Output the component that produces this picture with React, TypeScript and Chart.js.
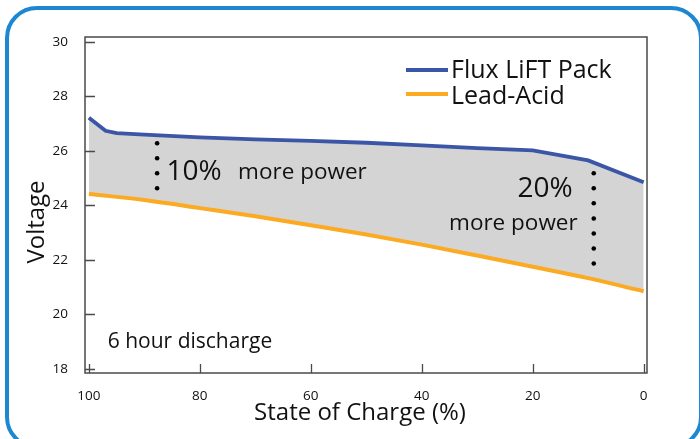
import React, { useEffect, useRef } from "react";
import { Chart, registerables } from "chart.js";

Chart.register(...registerables);

// ---- data ----
const fluxSoc = [100, 97, 95, 90, 80, 70, 60, 50, 40, 30, 20, 10, 0];
const fluxVoltage = [27.22, 26.74, 26.65, 26.6, 26.5, 26.42, 26.37, 26.3, 26.2, 26.1, 26.02, 25.65, 24.85];
const leadSoc = [100, 90, 80, 70, 60, 50, 40, 30, 20, 10, 0];
const leadVoltage = [24.42, 24.2, 23.9, 23.6, 23.27, 22.93, 22.56, 22.16, 21.75, 21.33, 20.85];
const dots10Soc = 87.7;
const dots10Voltage = [26.28, 25.73, 25.18, 24.63];
const dots20Soc = 9;
const dots20Voltage = [25.18, 24.63, 24.08, 23.52, 22.97, 22.42, 21.87];
const yTickValues = [18, 20, 22, 24, 26, 28, 30];
const xTickValues = [100, 80, 60, 40, 20, 0];
const seriesNames = ["Flux LiFT Pack", "Lead-Acid"];
const xTitle = "State of Charge (%)";
const yTitle = "Voltage";
const note10 = ["10%", "more power"];
const note20 = ["20%", "more power"];
const noteDischarge = "6 hour discharge";

const FONT = '"Open Sans", "DejaVu Sans", sans-serif';
const BLUE = "#3b56a6";
const ORANGE = "#fbaa22";
const FILL = "#d4d4d4";
const FRAME = "#4a4a4a";
const TEXT = "#111111";

const decorPlugin = {
  id: "decor",
  afterDatasetsDraw(chart: any) {
    const { ctx, chartArea: a, scales } = chart;
    const xs = scales.x;
    const ys = scales.y;
    ctx.save();
    // frame
    ctx.strokeStyle = FRAME;
    ctx.lineWidth = 1.5;
    ctx.strokeRect(a.left, a.top, a.right - a.left, a.bottom - a.top);
    // inward ticks
    ctx.lineWidth = 1.3;
    ctx.beginPath();
    yTickValues.forEach((v) => {
      const py = Math.round(ys.getPixelForValue(v)) + 0.5;
      ctx.moveTo(a.left, py);
      ctx.lineTo(a.left + 10, py);
    });
    xTickValues.forEach((v) => {
      const px = Math.round(xs.getPixelForValue(v)) + 0.5;
      ctx.moveTo(px, a.bottom);
      ctx.lineTo(px, a.bottom - 9);
    });
    ctx.stroke();

    // annotations
    ctx.fillStyle = TEXT;
    ctx.textBaseline = "alphabetic";
    ctx.textAlign = "left";
    ctx.font = `28px ${FONT}`;
    ctx.fillText(note10[0], xs.getPixelForValue(86.0), ys.getPixelForValue(24.94));
    ctx.font = `22.5px ${FONT}`;
    ctx.fillText(note10[1], xs.getPixelForValue(73.1), ys.getPixelForValue(24.96));
    ctx.textAlign = "right";
    ctx.font = `28px ${FONT}`;
    ctx.fillText(note20[0], xs.getPixelForValue(12.8), ys.getPixelForValue(24.31));
    ctx.font = `22.5px ${FONT}`;
    ctx.fillText(note20[1], xs.getPixelForValue(11.9), ys.getPixelForValue(23.1));
    ctx.textAlign = "left";
    ctx.font = `21px ${FONT}`;
    ctx.fillText(noteDischarge, xs.getPixelForValue(96.6), ys.getPixelForValue(18.75));

    // legend
    const legendColors = [BLUE, ORANGE];
    const legendY = [70, 94];
    const legendBase = [78, 104];
    ctx.lineWidth = 4;
    ctx.font = `25px ${FONT}`;
    seriesNames.forEach((name, i) => {
      ctx.strokeStyle = legendColors[i];
      ctx.beginPath();
      ctx.moveTo(406, legendY[i]);
      ctx.lineTo(448, legendY[i]);
      ctx.stroke();
      ctx.fillText(name, 451, legendBase[i]);
    });

    // axis titles
    ctx.font = `24px ${FONT}`;
    ctx.textAlign = "center";
    ctx.textBaseline = "middle";
    ctx.fillText(xTitle, 360, 413);
    ctx.translate(37, 222);
    ctx.rotate(-Math.PI / 2);
    ctx.fillText(yTitle, 0, 0);
    ctx.restore();
  },
};

export default function App() {
  const ref = useRef<HTMLCanvasElement | null>(null);
  useEffect(() => {
    if (!ref.current) return;
    const chart = new Chart(ref.current, {
      type: "line",
      data: {
        datasets: [
          {
            label: seriesNames[0],
            data: fluxSoc.map((x, i) => ({ x, y: fluxVoltage[i] })),
            borderColor: BLUE,
            borderWidth: 3.8,
            pointRadius: 0,
            tension: 0,
            fill: "+1",
            backgroundColor: FILL,
          },
          {
            label: seriesNames[1],
            data: leadSoc.map((x, i) => ({ x, y: leadVoltage[i] })),
            borderColor: ORANGE,
            borderWidth: 4,
            pointRadius: 0,
            cubicInterpolationMode: "monotone",
            fill: false,
          },
          {
            label: "dots10",
            data: dots10Voltage.map((y) => ({ x: dots10Soc, y })),
            showLine: false,
            pointRadius: 2.3,
            pointBackgroundColor: "#000",
            pointBorderWidth: 0,
            fill: false,
          },
          {
            label: "dots20",
            data: dots20Voltage.map((y) => ({ x: dots20Soc, y })),
            showLine: false,
            pointRadius: 2.3,
            pointBackgroundColor: "#000",
            pointBorderWidth: 0,
            fill: false,
          },
        ],
      },
      options: {
        responsive: false,
        animation: false,
        events: [],
        layout: { padding: { left: 0, top: 37, right: 53, bottom: 0 } },
        plugins: {
          legend: { display: false },
          tooltip: { enabled: false },
          filler: { drawTime: "beforeDatasetsDraw" },
        },
        scales: {
          x: {
            type: "linear",
            reverse: true,
            min: -0.6,
            max: 100.7,
            grid: { display: false },
            border: { display: false },
            afterBuildTicks: (s: any) => {
              s.ticks = xTickValues.map((value) => ({ value }));
            },
            afterFit: (s: any) => {
              s.height = 66;
            },
            ticks: {
              padding: 7,
              maxRotation: 0,
              autoSkip: false,
              color: TEXT,
              font: { family: FONT, size: 13.5 },
            },
          },
          y: {
            type: "linear",
            min: 17.85,
            max: 30.18,
            grid: { display: false },
            border: { display: false },
            afterBuildTicks: (s: any) => {
              s.ticks = yTickValues.map((value) => ({ value }));
            },
            afterFit: (s: any) => {
              s.width = 85;
            },
            ticks: {
              padding: 9,
              autoSkip: false,
              color: TEXT,
              font: { family: FONT, size: 13.5 },
            },
          },
        },
      },
      plugins: [decorPlugin],
    } as any);
    return () => chart.destroy();
  }, []);

  return (
    <div style={{ position: "fixed", left: 0, top: 0, width: 700, height: 439, background: "#fff", overflow: "hidden" }}>
      <div
        style={{
          position: "absolute",
          left: 5,
          top: 6,
          width: 698,
          height: 443,
          border: "4px solid #1d88cf",
          borderRadius: 32,
          boxSizing: "border-box",
        }}
      />
      <canvas ref={ref} width={700} height={439} style={{ position: "absolute", left: 0, top: 0 }} />
    </div>
  );
}
